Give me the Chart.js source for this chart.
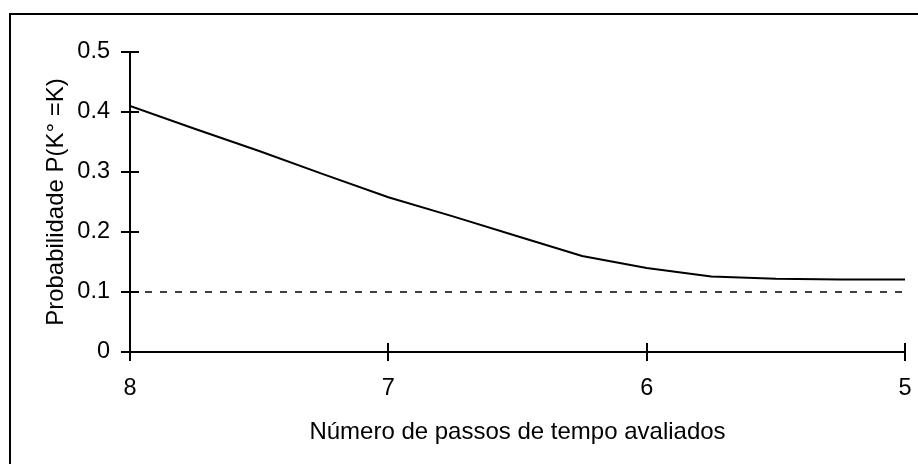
<!DOCTYPE html>
<html>
<head>
<meta charset="utf-8">
<script src="https://cdn.jsdelivr.net/npm/chart.js@4"></script>
<style>
  html, body { margin: 0; padding: 0; background: #fff; }
  #wrap { position: relative; width: 918px; height: 464px; overflow: hidden; }
  #frame { position: absolute; left: 9px; top: 13px; width: 960px; height: 500px; border: 2px solid #000; box-sizing: border-box; }
  canvas { position: absolute; left: 0; top: 0; }
</style>
</head>
<body>
<div id="wrap">
  <div id="frame"></div>
  <canvas id="c" width="918" height="464"></canvas>
</div>
<script>
// Data
const steps = [8, 7.75, 7.5, 7.25, 7, 6.75, 6.5, 6.25, 6, 5.75, 5.5, 5.25, 5];
const probability = [0.41, 0.372, 0.335, 0.296, 0.258, 0.226, 0.193, 0.160, 0.140, 0.126, 0.122, 0.121, 0.121];
const thresholdX = [8, 5];
const thresholdY = [0.1, 0.1];
const xTicks = [8, 7, 6, 5];
const yTicks = [0, 0.1, 0.2, 0.3, 0.4, 0.5];
const xTitle = 'Número de passos de tempo avaliados';
const yTitle = 'Probabilidade P(K° =K)';

const FONT = "'Liberation Sans', Arial, sans-serif";
const FSIZE = 23.5;
const TSIZE = 24;

const crossTicks = {
  id: 'crossTicks',
  afterDraw(chart) {
    const ctx = chart.ctx;
    const xs = chart.scales.x, ys = chart.scales.y;
    ctx.save();
    ctx.strokeStyle = '#000';
    ctx.lineWidth = 2;
    ctx.beginPath();
    yTicks.forEach(v => {
      const py = Math.round(ys.getPixelForValue(v));
      ctx.moveTo(xs.left - 9, py);
      ctx.lineTo(xs.left + 9, py);
    });
    xTicks.forEach(v => {
      const px = Math.round(xs.getPixelForValue(v));
      ctx.moveTo(px, ys.bottom - 9);
      ctx.lineTo(px, ys.bottom + 9);
    });
    ctx.stroke();
    ctx.restore();
  }
};

new Chart(document.getElementById('c'), {
  type: 'line',
  data: {
    datasets: [
      {
        data: steps.map((s, i) => ({x: s, y: probability[i]})),
        borderColor: '#000',
        borderWidth: 2,
        pointRadius: 0,
        tension: 0,
        fill: false
      },
      {
        data: thresholdX.map((s, i) => ({x: s, y: thresholdY[i]})),
        borderColor: '#000',
        borderWidth: 1.5,
        borderDash: [7, 8],
        pointRadius: 0,
        fill: false
      }
    ]
  },
  options: {
    responsive: false,
    animation: false,
    devicePixelRatio: 1,
    layout: { padding: { left: 0, top: 52, right: 13, bottom: 0 } },
    plugins: { legend: { display: false }, tooltip: { enabled: false } },
    scales: {
      x: {
        type: 'linear',
        reverse: true,
        min: 5, max: 8,
        afterBuildTicks(scale) { scale.ticks = xTicks.map(v => ({value: v})); },
        afterFit(scale) { scale.height = 112; scale.paddingLeft = 0; scale.paddingRight = 0; },
        grid: { display: false, drawTicks: false },
        border: { display: true, color: '#000', width: 2 },
        ticks: { color: '#000', font: { family: FONT, size: FSIZE }, padding: 22, maxRotation: 0,
                 callback: v => String(v) },
        title: { display: true, text: xTitle, color: '#000', font: { family: FONT, size: TSIZE },
                 padding: { top: 0, bottom: 17 } }
      },
      y: {
        min: 0, max: 0.5,
        afterBuildTicks(scale) { scale.ticks = yTicks.map(v => ({value: v})); },
        afterFit(scale) { scale.width = 130; scale.paddingTop = 0; scale.paddingBottom = 0; },
        grid: { display: false, drawTicks: false },
        border: { display: true, color: '#000', width: 2 },
        ticks: { color: '#000', font: { family: FONT, size: FSIZE }, padding: 20,
                 callback: v => String(Math.round(v * 10) / 10) },
        title: { display: true, text: yTitle, color: '#000', font: { family: FONT, size: TSIZE },
                 padding: { top: 42, bottom: 0 } }
      }
    }
  },
  plugins: [crossTicks]
});
</script>
</body>
</html>
